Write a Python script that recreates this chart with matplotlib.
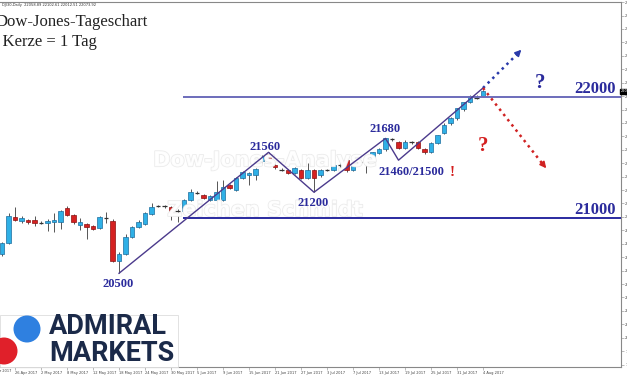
"""Dow-Jones daily candlestick chart (Apr - Aug 2017) with annotated levels."""
import matplotlib
matplotlib.use("Agg")
import matplotlib.pyplot as plt
import matplotlib.patheffects as pe
from matplotlib.patches import Ellipse, Rectangle
from matplotlib.transforms import blended_transform_factory

# daily candles, 24 Apr 2017 .. 4 Aug 2017
opens = [20703, 20793, 21008, 20975, 20983, 20983, 20967, 20959, 20967, 20967,
         21083, 21025, 20942, 20950, 20934, 20917, 21000, 20975, 20645, 20703,
         20843, 20926, 20950, 21033, 21095, 21100, 21091, 21066, 21058, 21149,
         21215, 21190, 21149, 21149, 21149, 21273, 21231, 21331, 21355, 21355,
         21470, 21529, 21438, 21405, 21397, 21372, 21397, 21331, 21397, 21355,
         21397, 21400, 21440, 21479, 21397, 21460, 21470, 21504, 21537, 21570,
         21650, 21628, 21579, 21625, 21628, 21570, 21545, 21620, 21702, 21785,
         21826, 21901, 21959, 22000, 22008]
highs = [20800, 21041, 21091, 21015, 20995, 21017, 20980, 20990, 21041, 21066,
         21099, 21035, 21000, 20960, 20945, 21017, 21050, 20990, 20720, 20868,
         20935, 20983, 21050, 21124, 21108, 21110, 21100, 21075, 21158, 21240,
         21225, 21200, 21190, 21306, 21314, 21285, 21340, 21390, 21380, 21413,
         21525, 21545, 21450, 21415, 21405, 21425, 21405, 21455, 21405, 21405,
         21408, 21470, 21500, 21500, 21445, 21475, 21480, 21550, 21580, 21665,
         21665, 21640, 21650, 21640, 21640, 21580, 21628, 21690, 21790, 21840,
         21915, 21965, 22015, 22015, 22060]
lows = [20690, 20785, 20975, 20960, 20955, 20934, 20950, 20893, 20884, 20909,
        21017, 20955, 20901, 20826, 20900, 20910, 20959, 20640, 20545, 20695,
        20835, 20918, 20940, 21025, 21090, 21088, 20983, 20967, 21050, 21140,
        21198, 21155, 21140, 21140, 21140, 21240, 21222, 21322, 21273, 21314,
        21460, 21488, 21410, 21390, 21365, 21365, 21322, 21322, 21215, 21345,
        21390, 21390, 21420, 21380, 21390, 21450, 21372, 21495, 21530, 21560,
        21640, 21570, 21570, 21610, 21570, 21529, 21537, 21612, 21695, 21775,
        21815, 21890, 21950, 21985, 22000]
closes = [20793, 21017, 20983, 21000, 20967, 20959, 20962, 20975, 20983, 21058,
          21025, 20967, 20967, 20926, 20909, 21008, 21004, 20645, 20703, 20843,
          20926, 20967, 21041, 21091, 21100, 21097, 21041, 21062, 21149, 21215,
          21207, 21165, 21182, 21215, 21256, 21248, 21331, 21380, 21372, 21405,
          21515, 21496, 21421, 21397, 21372, 21413, 21331, 21397, 21331, 21397,
          21400, 21440, 21445, 21397, 21438, 21462, 21465, 21545, 21570, 21661,
          21653, 21579, 21628, 21628, 21579, 21545, 21620, 21686, 21769, 21826,
          21909, 21959, 22008, 21995, 22050]

date_ticks = [2, 6, 10, 14, 18, 22, 26, 30, 34, 38, 42, 46, 50, 54, 58, 62, 66, 70, 74]
date_labels = ["26 Apr 2017", "2 May 2017", "8 May 2017", "12 May 2017",
               "18 May 2017", "24 May 2017", "30 May 2017", "5 Jun 2017", "9 Jun 2017",
               "15 Jun 2017", "21 Jun 2017", "27 Jun 2017", "3 Jul 2017", "7 Jul 2017",
               "13 Jul 2017", "19 Jul 2017", "25 Jul 2017", "31 Jul 2017", "4 Aug 2017"]

# zigzag (bar index, price) and key levels
zz_x = [18, 41, 48, 59, 61, 74]
zz_y = [20545, 21545, 21215, 21660, 21480, 22077]
levels = [22000, 21000]

BLUE_FILL, BLUE_EDGE = "#2fb0e6", "#1c6d9e"
RED_FILL, RED_EDGE = "#d52121", "#8c1212"
TXT = "#2b2b9c"
SERIF = ["Liberation Serif", "DejaVu Serif"]

fig = plt.figure(figsize=(6.27, 3.76), dpi=100)
ax = fig.add_axes([0, 9 / 376, 621 / 627, 365 / 376])

# candles
for i, (o, h, l, c) in enumerate(zip(opens, highs, lows, closes)):
    up = c >= o
    ax.vlines(i, l, h, color="#555555", lw=0.7, zorder=2)
    if abs(c - o) < 12:
        ax.hlines((o + c) / 2, i - 0.32, i + 0.32, color="#333333", lw=0.9, zorder=3)
    else:
        ax.bar(i, abs(c - o), bottom=min(o, c), width=0.66,
               color=BLUE_FILL if up else RED_FILL,
               edgecolor=BLUE_EDGE if up else RED_EDGE, lw=0.5, zorder=3)

# watermark
halo = [pe.withStroke(linewidth=1.1, foreground="#e8e8e8")]
for txt, y in [("Dow-Jones-Analyse", 21479), ("Zeichen Schmidt", 21067)]:
    ax.text(40.5, y, txt, fontsize=15, fontweight="bold", color="white", alpha=0.9,
            ha="center", va="center", zorder=4, path_effects=halo)

# levels and trend lines
for lv, col in zip(levels, ["#6d6dbb", "#2a2aa0"]):
    ax.hlines(lv, 27.8, 96, color=col, lw=1.4, zorder=5)
ax.plot(zz_x, zz_y, color="#4b3a8c", lw=1.0, zorder=5)

ax.plot([74, 79.5], [22077, 22370], color="#2a3aaa", lw=1.8, ls=":", zorder=5)
ax.annotate("", xy=(80.2, 22410), xytext=(79.3, 22360),
            arrowprops=dict(arrowstyle="-|>", color="#2a3aaa", lw=1.2, mutation_scale=9))
ax.plot([74, 83.3], [22077, 21440], color="#d02222", lw=1.8, ls=":", zorder=5)
ax.annotate("", xy=(84.0, 21395), xytext=(83.1, 21455),
            arrowprops=dict(arrowstyle="-|>", color="#d02222", lw=1.2, mutation_scale=9))

# labels
for x, y, s, fs in [(17.85, 20455, "20500", 9), (40.5, 21588, "21560", 9),
                    (47.8, 21126, "21200", 9), (58.9, 21737, "21680", 9),
                    (63.0, 21382, "21460/21500", 9), (91.2, 22068, "22000", 12),
                    (91.2, 21067, "21000", 12)]:
    ax.text(x, y, s, fontsize=fs, fontweight="bold", color=TXT, family=SERIF,
            ha="center", va="center", zorder=6)
ax.text(69.3, 21382, "!", fontsize=11, fontweight="bold", color="#d42020", family=SERIF,
        ha="center", va="center", zorder=6)
ax.text(74.0, 21595, "?", fontsize=15, fontweight="bold", color="#d42020", family=SERIF,
        ha="center", va="center", zorder=6)
ax.text(82.8, 22120, "?", fontsize=15, fontweight="bold", color=TXT, family=SERIF,
        ha="center", va="center", zorder=6)

# axes look
for side in ["top", "right", "bottom"]:
    ax.spines[side].set_color("#888888")
    ax.spines[side].set_linewidth(0.8)
ax.spines["left"].set_visible(False)
ax.set_xticks(date_ticks)
ax.set_xticklabels(date_labels, fontsize=2.6, color="#444444", ha="left")
ax.tick_params(axis="x", length=2, width=0.4, color="#888888", pad=1)
ax.yaxis.tick_right()
ax.set_yticks(range(19790, 22800, 111))
ax.set_yticklabels([str(v) for v in range(19790, 22800, 111)], fontsize=2.6, color="#444444")
ax.tick_params(axis="y", length=2, width=0.4, color="#888888", pad=1)
ax.set_xlim(-0.31, 95.23)
ax.set_ylim(19770, 22788)
# first date label, mostly cut off at the left edge
xtrans = blended_transform_factory(ax.transData, ax.transAxes)
ax.text(-2, -0.006, "20 Apr 2017", transform=xtrans, fontsize=2.6, color="#444444",
        ha="left", va="top", clip_on=False)
trans = blended_transform_factory(ax.transAxes, ax.transData)
ax.text(1.0, 22050, "22050", transform=trans, fontsize=2.6, color="white", va="center",
        ha="left", bbox=dict(boxstyle="square,pad=0.2", fc="black", ec="black"), clip_on=False)

# header and title
fig.text(2 / 627, 1 - 5 / 376, "DJI30,Daily  22058.89 22102.61 22012.51 22073.92",
         fontsize=2.6, color="#333333", va="center")
fig.text(-4 / 627, 1 - 22 / 376, "Dow-Jones-Tageschart", fontsize=12, family=SERIF,
         color="#222222", va="center")
fig.text(-10 / 627, 1 - 42 / 376, "1 Kerze = 1 Tag", fontsize=12, family=SERIF,
         color="#222222", va="center")

# logo
fig.patches.append(Rectangle((0, 9 / 376), 178 / 627, 52 / 376, transform=fig.transFigure,
                             fc="white", ec="#dddddd", lw=0.6, zorder=10))
for (cx, cy), col in [((27, 329), "#2f80e0"), ((4, 351), "#e0202a")]:
    fig.patches.append(Ellipse((cx / 627, 1 - cy / 376), 27 / 627, 27 / 376,
                               transform=fig.transFigure, fc=col, ec="none", zorder=11))
for txt, y in [("ADMIRAL", 327), ("MARKETS", 353.5)]:
    fig.text(49 / 627, 1 - y / 376, txt, fontsize=19.5, fontweight="bold", family="Roboto",
             color="#1b2a49", va="center", zorder=12)

plt.savefig("out.png", dpi=100)
plt.close()
